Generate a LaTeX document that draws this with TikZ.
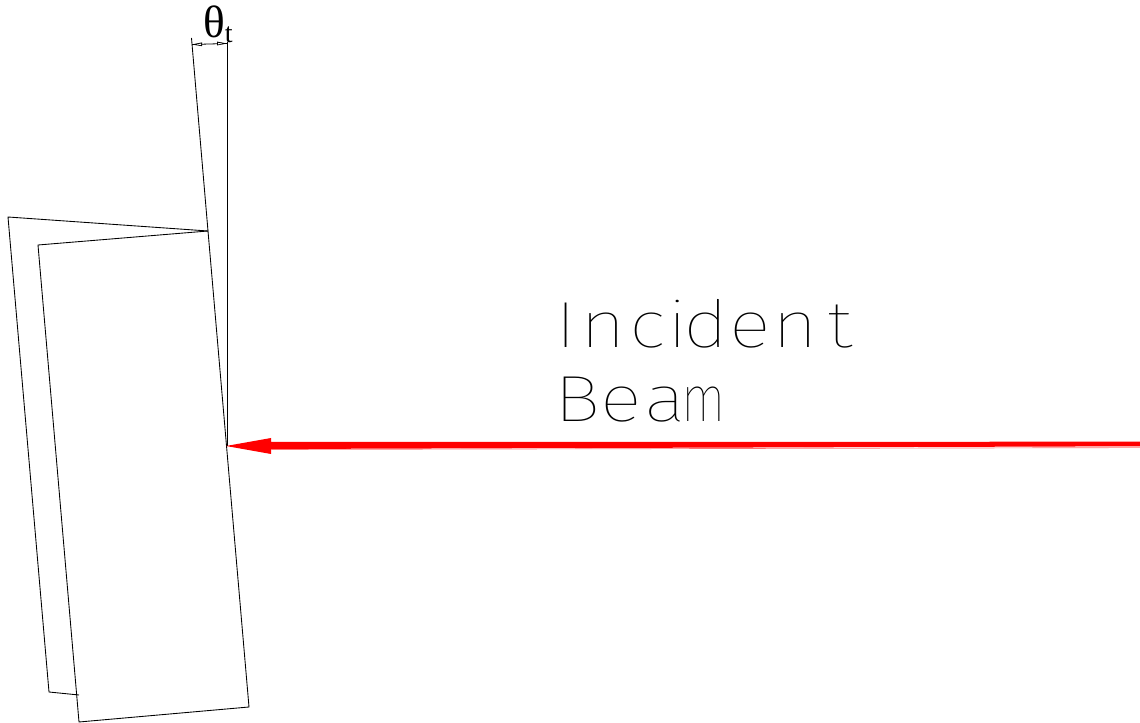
\documentclass[tikz,border=0pt]{standalone}
\usepackage{fontspec}
\usepackage{graphicx}
\setmainfont{Liberation Serif}
\newfontfamily\beamfont[UprightFont=* Thin]{Fira Sans}
\newcommand{\Lt}[3][1.2]{\makebox[#2\dimexpr 0.75pt\relax][c]{\scalebox{#1}[1]{#3}}}
\tikzset{
  thinline/.style={line width=0.65pt,black,line join=miter},
  beamtext/.style={anchor=base west,inner sep=0,text=black,font=\beamfont\fontsize{49}{49}\selectfont},
}
\begin{document}
\begin{tikzpicture}[x=0.75pt,y=-0.75pt]
\useasboundingbox (0,0) rectangle (1140,723);
% plates
\draw[thinline] (208,231) -- (8,217) -- (49,692) -- (79,695);
\draw[thinline] (208,231) -- (38,245) -- (79,722) -- (249,707) -- cycle;
% angle construction
\coordinate (tiltTop) at (191.5,38);
\coordinate (vertTop) at (227,42);
\coordinate (hit) at (226,446);
\draw[thinline] (208,231) -- (tiltTop);
\draw[thinline] (vertTop) -- (227,446);
\draw[line width=0.6pt,black] (192,44.5) -- (227,43.5);
\fill[black] (192,44.5) -- (202,42.4) -- (202,46.2) -- cycle;
\fill[white] (196.5,44.4) -- (201,43.6) -- (201,45.1) -- cycle;
\fill[black] (227,43.5) -- (217,41.6) -- (217,45.4) -- cycle;
\fill[white] (222.5,43.6) -- (218,42.9) -- (218,44.4) -- cycle;
% beam
\fill[red] (hit) -- (271,438) -- (271,442) -- (1140,441.7) -- (1140,446.3) -- (271,449) -- (271,454) -- cycle;
\draw[red!55,line width=0.5pt] (271,449.5) -- (1140,447.6);
% labels
\node[inner sep=0,anchor=base west,font=\fontsize{34}{34}\selectfont] (thetaLabel) at (203,38) {θ};
\node[inner sep=0,anchor=base west,font=\fontsize{21}{21}\selectfont] (tLabel) at (224.5,43) {t};
\node[beamtext] (incident) at (544,348) {\Lt{44}{I}\Lt{30}{n}\Lt{58}{c}\Lt{2}{i}\Lt{56}{d}\Lt{32}{e}\Lt{58}{n}\Lt{32}{t}};
\node[beamtext] (beam) at (547,422) {\Lt{60}{B}\Lt{28}{e}\Lt{60}{a}\Lt[0.8]{16}{m}};
\end{tikzpicture}
\end{document}
